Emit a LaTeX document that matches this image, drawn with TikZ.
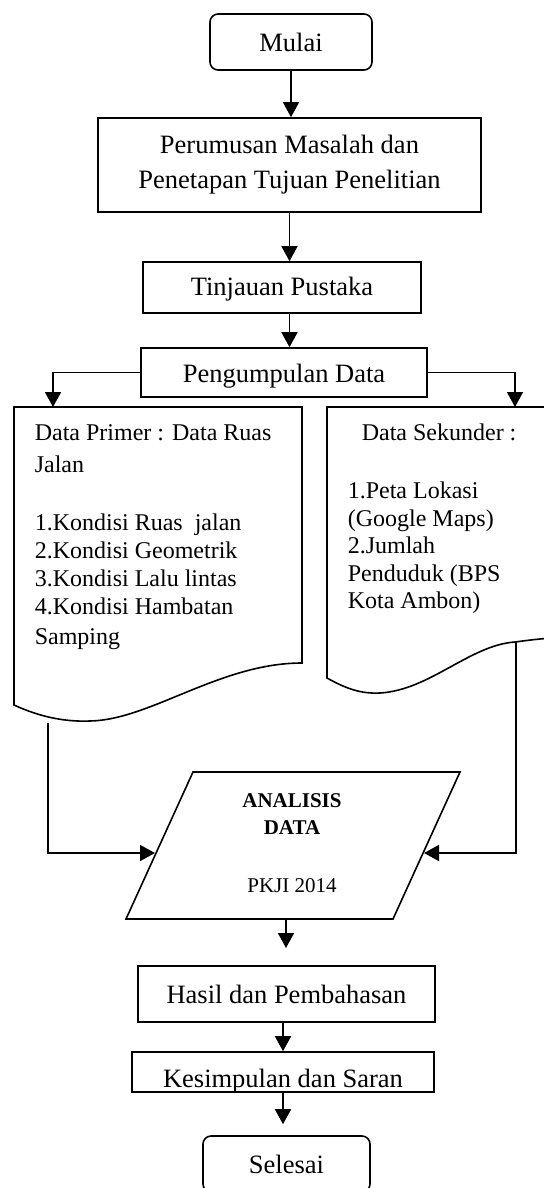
\documentclass[tikz,border=0pt]{standalone}
\usepackage{fontspec}
\setmainfont{Liberation Serif}
\usepackage{tikz}
\usetikzlibrary{arrows.meta}

\begin{document}
\begin{tikzpicture}[x=0.5pt,y=-0.5pt,line width=0.8pt,
  kotak/.style={draw,inner sep=0pt,align=center,font=\fontsize{13.25}{17.5}\selectfont},
  tepi/.style={kotak,rounded corners=4pt},
  isi/.style={inner sep=0pt,align=left,anchor=north west,font=\fontsize{12}{14}\selectfont},
  panah/.style={-{Triangle[length=7.5pt,width=8pt]}}]
\useasboundingbox (0,0) rectangle (544,1188);
\node[tepi,minimum width=81pt,minimum height=28pt] (mulai) at (291,42) {Mulai};
\node[kotak,minimum width=191.5pt,minimum height=47pt] (rumus) at (289.5,165) {Perumusan Masalah dan\\Penetapan Tujuan Penelitian};
\node[kotak,minimum width=139pt,minimum height=25.5pt] (tinjau) at (282,287.5) {\raisebox{-1pt}[\height][\depth]{Tinjauan Pustaka}};
\node[kotak,minimum width=143pt,minimum height=24.5pt] (kumpul) at (284,372.5) {\raisebox{-2pt}[\height][\depth]{Pengumpulan Data}};
\draw (14,407) -- (302,407) -- (302,663) .. controls (220,663) and (150,720) .. (90,721) .. controls (65,722) and (40,717) .. (14,705) -- cycle;
\draw (327,678) .. controls (345,688) and (360,694) .. (380,693) .. controls (430,690) and (470,645) .. (515,642) .. controls (530,640) and (545,638) .. (570,637) -- (570,407) -- (327,407) -- cycle;
\node[isi] (primer) at (34,423.5) {Data Primer : Data Ruas\\[2pt]Jalan\\[15pt]1.Kondisi Ruas\ \ jalan\\2.Kondisi Geometrik\\3.Kondisi Lalu lintas\\4.Kondisi Hambatan\\[1pt]Samping};
\node[isi,font=\fontsize{12}{13.75}\selectfont] (sekunder) at (347,423.5) {\hspace*{7pt}Data Sekunder :\\[15.25pt]1.Peta Lokasi\\(Google Maps)\\2.Jumlah\\Penduduk (BPS\\Kota Ambon)};
\draw (193,772) -- (460,772) -- (393,919) -- (126,919) -- cycle;
\node[inner sep=0pt,align=center,anchor=north,font=\fontsize{10.5}{13.5}\selectfont] (analisis) at (292,793) {\textbf{ANALISIS}\\\textbf{DATA}\\[15.5pt]PKJI 2014};
\coordinate (masukA) at (53,407);
\coordinate (masukB) at (515,407);
\coordinate (keluarA) at (48,723);
\coordinate (keluarB) at (516,642);
\coordinate (analisisA) at (155,853);
\coordinate (analisisB) at (424,853);
\coordinate (analisisC) at (286,919);
\coordinate (ujung) at (286,948);
\node[kotak,minimum width=148.5pt,minimum height=28pt] (hasil) at (286.5,994) {Hasil dan Pembahasan};
\node[kotak,minimum width=151pt,minimum height=20pt] (simpul) at (283,1072) {\raisebox{-4.5pt}[\height][\depth]{Kesimpulan dan Saran}};
\node[tepi,minimum width=83.5pt,minimum height=28pt] (selesai) at (286.5,1164) {Selesai};
\draw[panah] (mulai) -- (mulai |- rumus.north);
\draw[panah] (rumus) -- (rumus |- tinjau.north);
\draw[panah] (tinjau.south -| rumus) -- (kumpul.north -| rumus);
\draw[panah] (kumpul.west) -| (masukA);
\draw[panah] (kumpul.east) -| (masukB);
\draw[panah] (keluarA) |- (analisisA);
\draw[panah] (keluarB) |- (analisisB);
\draw[panah] (analisisC) -- (ujung);
\draw[panah] (hasil.south -| simpul) -- (simpul.north);
\draw[panah,shorten >=5.5pt] (simpul) -- (simpul |- selesai.north);
\end{tikzpicture}
\end{document}
